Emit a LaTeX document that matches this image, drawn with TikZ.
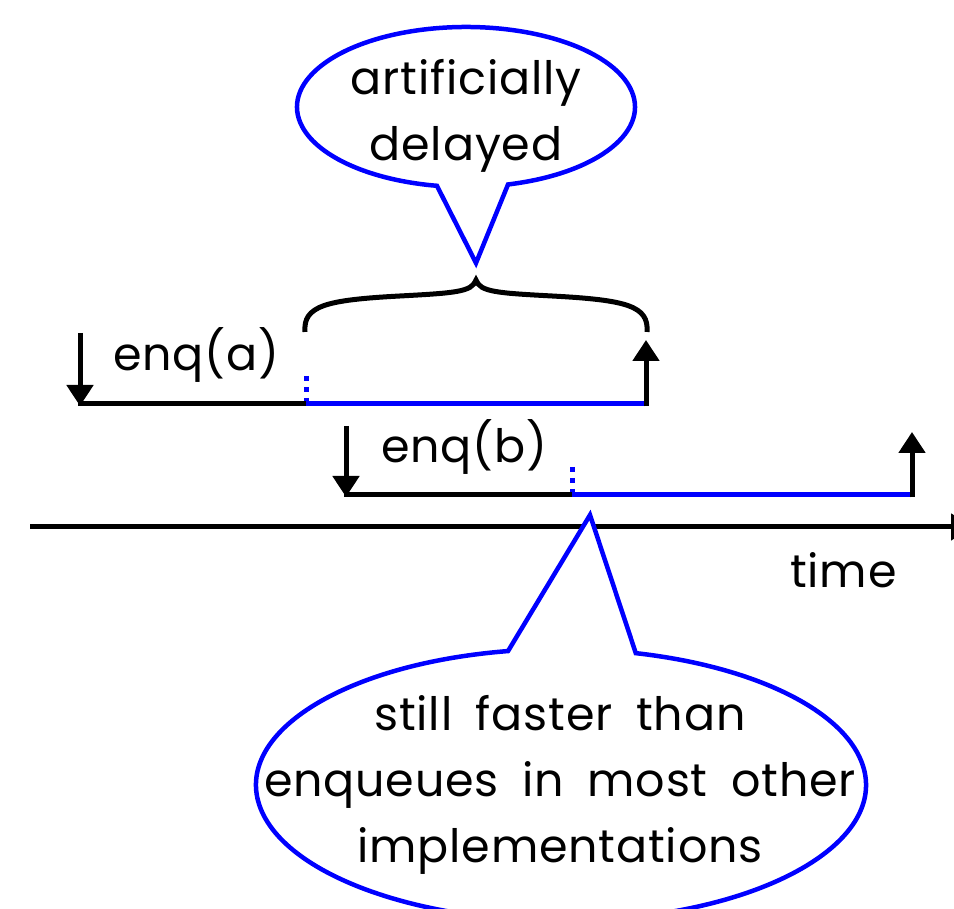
\documentclass[tikz,border=0pt]{standalone}
\usepackage{fontspec}
\setmainfont{Poppins}[LetterSpace=1.8,WordSpace=1.8]
\usetikzlibrary{arrows.meta,calc}
\begin{document}
\begin{tikzpicture}[x=1pt,y=1pt,
  blk/.style={line width=5pt,black},
  blu/.style={line width=5pt,blue},
  tip/.style={-{Triangle[length=21pt,width=26pt]}},
  dots/.style={line width=5pt,blue,dash pattern=on 5pt off 6pt},
  callout/.style={line width=4.5pt,draw=blue,fill=white,line join=miter},
  lbl/.style={font=\fontsize{46}{66}\selectfont,inner sep=0pt,align=center}
]
\useasboundingbox (0,0) rectangle (954,909);
\clip (0,0) rectangle (954,909);

% coordinates
\coordinate (aS) at (80,576);
\coordinate (a0) at (80,505);
\coordinate (a1) at (306,505);
\coordinate (a2) at (646,505);
\coordinate (aE) at (646,569);
\coordinate (aD) at (306,533);
\coordinate (bS) at (346,483);
\coordinate (b0) at (346,414);
\coordinate (b1) at (572,414);
\coordinate (b2) at (912,414);
\coordinate (bE) at (912,477);
\coordinate (bD) at (572,442);
\coordinate (t0) at (30,382);
\coordinate (t1) at (972,382);

% time axis
\draw[blk,tip] (t0) -- (t1);
\node[lbl,anchor=west] (time) at (790,339) {time};

% enq(a)
\draw[blk,tip] (aS) -- ($(a0)+(0,-2)$);
\draw[blk] ($(a0)+(-2.5,0)$) -- (a1);
\draw[blu] (a1) -- ($(a2)+(2.5,0)$);
\draw[blk,tip] ($(a2)+(0,-2.5)$) -- (aE);
\draw[dots] (aD) -- ($(a1)+(0,2.5)$);
\node[lbl,anchor=west] (enqa) at (113,554) {enq(a)};

% enq(b)
\draw[blk,tip] (bS) -- ($(b0)+(0,-2)$);
\draw[blk] ($(b0)+(-2.5,0)$) -- (b1);
\draw[blu] (b1) -- ($(b2)+(2.5,0)$);
\draw[blk,tip] ($(b2)+(0,-2.5)$) -- (bE);
\draw[dots] (bD) -- ($(b1)+(0,2.5)$);
\node[lbl,anchor=west] (enqb) at (381,462) {enq(b)};

% brace
\coordinate (brL) at (305,577);
\coordinate (brT) at (476,629);
\coordinate (brR) at (647,577);
\draw[blk] (brL) .. controls (303,603) and (325,609) .. (400,613)
  .. controls (455,616) and (472,617) .. (brT)
  .. controls (480,617) and (497,616) .. (552,613)
  .. controls (627,609) and (649,603) .. (brR);

% top callout
\coordinate (c1) at (466,802);
\coordinate (c1tip) at (476,646);
\draw[callout] ($(c1)+(284.4:169 and 80)$) arc[start angle=284.4, end angle=620.1, x radius=169, y radius=80] -- (c1tip) -- cycle;
\node[lbl] (ctext1) at (466,793) {artificially\\delayed};

% bottom callout
\coordinate (c2) at (561,124);
\coordinate (c2tip) at (590,394);
\draw[callout] ($(c2)+(100:305 and 136)$) arc[start angle=100, end angle=435.8, x radius=305, y radius=136] -- (c2tip) -- cycle;
\node[lbl] (ctext2) at (560,124) {still faster than\\enqueues in most other\\implementations};
\end{tikzpicture}
\end{document}
